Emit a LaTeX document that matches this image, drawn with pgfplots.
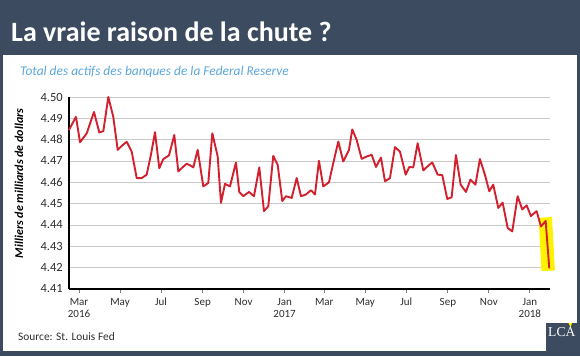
\documentclass[border=0pt]{standalone}
\usepackage{fontspec}
\setmainfont{Carlito}
\usepackage{pgfplots}
\pgfplotsset{compat=1.18}
\definecolor{bg}{HTML}{3C4B5F}
\definecolor{sub}{HTML}{5BA7DA}
\definecolor{redline}{HTML}{D3202F}
\definecolor{gridc}{HTML}{C9C9C9}
\definecolor{txt}{HTML}{2E2E2E}
\begin{document}
\begin{tikzpicture}[x=1bp,y=1bp]
\fill[bg] (0,0) rectangle (580,356);
\fill[white] (3,5) rectangle (577,301);
\fill[bg] (546,0) rectangle (580,33);
\node[anchor=base west,inner sep=0,text=white,font=\fontsize{28bp}{30bp}\selectfont\bfseries] at (11,315) {La vraie raison de la chute ?};
\node[anchor=base west,inner sep=0,text=sub,font=\fontsize{13.4bp}{15bp}\selectfont\itshape] at (20,281) {Total des actifs des banques de la Federal Reserve};
\node[anchor=base west,inner sep=0,text=txt,font=\fontsize{11.4bp}{13bp}\selectfont] at (18,15.5) {Source: St. Louis Fed};
\node[anchor=base west,inner sep=0,text=white,font=\fontspec{Liberation Serif}\fontsize{13.6bp}{15bp}\selectfont] at (548,19.5) {LCA};
\fill[yellow] (568.5,33) -- (572,33) -- (570.5,28.5) -- cycle;
\begin{axis}[
  at={(69bp,67bp)}, anchor=south west,
  scale only axis, width=481bp, height=192bp,
  xmin=-14.9, xmax=701, ymin=4.41, ymax=4.50,
  clip=false,
  axis x line=bottom, axis y line=left,
  axis line style={-, line width=2.6bp, black},
  every outer x axis line/.append style={line width=2.6bp, black},
  every outer y axis line/.append style={line width=2.6bp, black},
  xtick={0,61,122,184,245,306,365,426,487,549,610,671},
  xticklabels={{Mar\\2016},May,Jul,Sep,Nov,{Jan\\2017},Mar,May,Jul,Sep,Nov,{Jan\\2018}},
  xticklabel style={align=center, text=txt, font=\fontsize{11bp}{12bp}\selectfont, yshift=-2bp},
  xtick align=outside,
  major tick length=3.5bp,
  xtick style={draw=gray, line width=0.8bp},
  ytick={4.41,4.42,4.43,4.44,4.45,4.46,4.47,4.48,4.49,4.50},
  ytick style={draw=none},
  yticklabel style={text=txt, font=\fontsize{12.5bp}{13bp}\selectfont, /pgf/number format/fixed, /pgf/number format/fixed zerofill, /pgf/number format/precision=2, xshift=-1bp},
  /pgf/number format/assume math mode=true,
  ymajorgrids, major grid style={gridc, line width=1bp},
  ylabel={Milliers de milliards de dollars},
  ylabel style={at={(axis description cs:-0.104,0.55)}, anchor=center, font=\fontsize{12bp}{13bp}\selectfont\bfseries\itshape, text=black},
]
\addplot[fill=yellow, draw=none, forget plot] coordinates {(684.1,4.4433) (703.9,4.4438) (708.3,4.4187) (688.2,4.4184)} -- cycle;
\addplot[redline, line width=1.9bp, mark=none, line join=round] coordinates {
(-15,4.4845) (-4.5,4.4907) (1.5,4.4788) (11.5,4.4830) (22.3,4.4930) (30.2,4.4834)
(36.2,4.4840) (43.6,4.5000) (51.0,4.4907) (57.6,4.4752) (64.0,4.4772) (71.0,4.4790)
(78.4,4.4744) (85.9,4.4620) (93.3,4.4620) (100.7,4.4636) (107.1,4.4730) (113.1,4.4835)
(119.5,4.4666) (125.4,4.4709) (133.9,4.4726) (141.8,4.4822) (147.8,4.4651) (154.0,4.4670)
(160.3,4.4687) (165.2,4.4680) (170.1,4.4670) (176.6,4.4752) (185.0,4.4581) (192.4,4.4597)
(198.4,4.4830) (206.4,4.4721) (211.3,4.4504) (217.3,4.4593) (224.7,4.4581) (233.6,4.4693)
(238.5,4.4555) (244.5,4.4535) (253.0,4.4555) (260.4,4.4535) (268.3,4.4670) (275.3,4.4465)
(281.7,4.4488) (289.1,4.4724) (295.7,4.4682) (302.5,4.4512) (308.0,4.4535) (316.5,4.4527)
(324.0,4.4620) (330.4,4.4535) (337.8,4.4543) (345.2,4.4563) (351.2,4.4543) (357.1,4.4701)
(363.5,4.4581) (372.0,4.4600) (378.4,4.4690) (385.9,4.4791) (393.3,4.4698) (401.8,4.4752)
(406.7,4.4848) (413.2,4.4799) (420.7,4.4710) (428.1,4.4721) (435.6,4.4729) (442.0,4.4672)
(449.4,4.4716) (455.4,4.4605) (462.8,4.4620) (470.2,4.4765) (477.7,4.4744) (486.2,4.4636)
(491.5,4.4672) (497.5,4.4670) (504.0,4.4783) (512.4,4.4656) (519.8,4.4678) (525.8,4.4693)
(533.8,4.4636) (540.6,4.4634) (548.1,4.4522) (554.6,4.4530) (561.0,4.4728) (568.0,4.4589)
(575.9,4.4555) (582.6,4.4613) (590.0,4.4589) (596.7,4.4709) (604.2,4.4635) (610.6,4.4558)
(616.5,4.4589) (624.0,4.4480) (630.5,4.4505) (638.0,4.4386) (644.8,4.4370) (652.8,4.4535)
(659.7,4.4473) (666.2,4.4492) (672.6,4.4442) (681.1,4.4465) (687.5,4.4393) (694.5,4.4419)
(699.9,4.4197)
};
\end{axis}
\pgfresetboundingbox
\useasboundingbox (0,0) rectangle (580,356);
\end{tikzpicture}
\end{document}
